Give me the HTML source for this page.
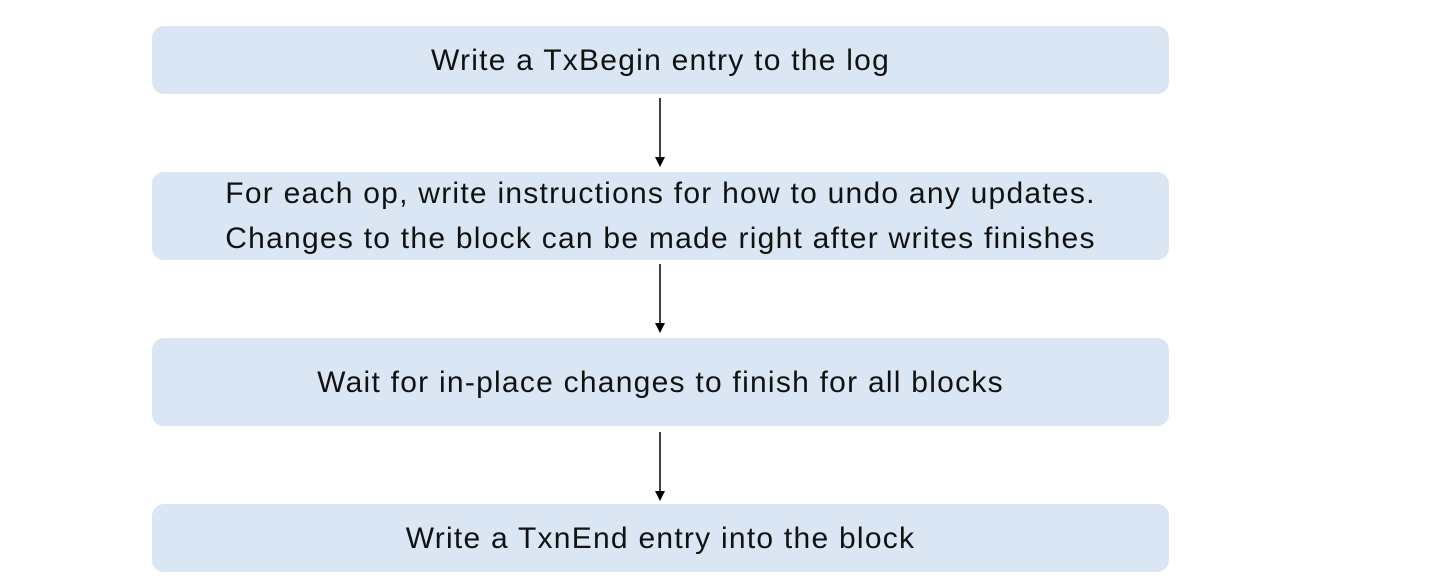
<!DOCTYPE html>
<html><head><style>
body{margin:0;width:1440px;height:583px;background:#fff;position:relative;font-family:"Liberation Sans",sans-serif;overflow:hidden}
.b{position:absolute;left:152px;width:1017px;background:#dae6f3;border-radius:12px;display:flex;align-items:center;justify-content:center;text-align:center;font-size:30px;letter-spacing:1.25px;line-height:45px;color:#111}
</style></head><body>
<div class="b" style="top:26px;height:68px">Write a TxBegin entry to the log</div>
<div class="b" style="top:172px;height:88px">For each op, write instructions for how to undo any updates.<br>Changes to the block can be made right after writes finishes</div>
<div class="b" style="top:338px;height:88px">Wait for in-place changes to finish for all blocks</div>
<div class="b" style="top:504px;height:68px">Write a TxnEnd entry into the block</div>
<svg width="1440" height="583" style="position:absolute;left:0;top:0">
<g stroke="#000" stroke-width="1.5"><line x1="660" y1="98" x2="660" y2="158"/><line x1="660" y1="264" x2="660" y2="324"/><line x1="660" y1="432" x2="660" y2="492"/></g>
<g fill="#000"><path d="M655 157 L665 157 L660 167Z"/><path d="M655 323 L665 323 L660 333Z"/><path d="M655 491 L665 491 L660 501Z"/></g>
</svg>
</body></html>
